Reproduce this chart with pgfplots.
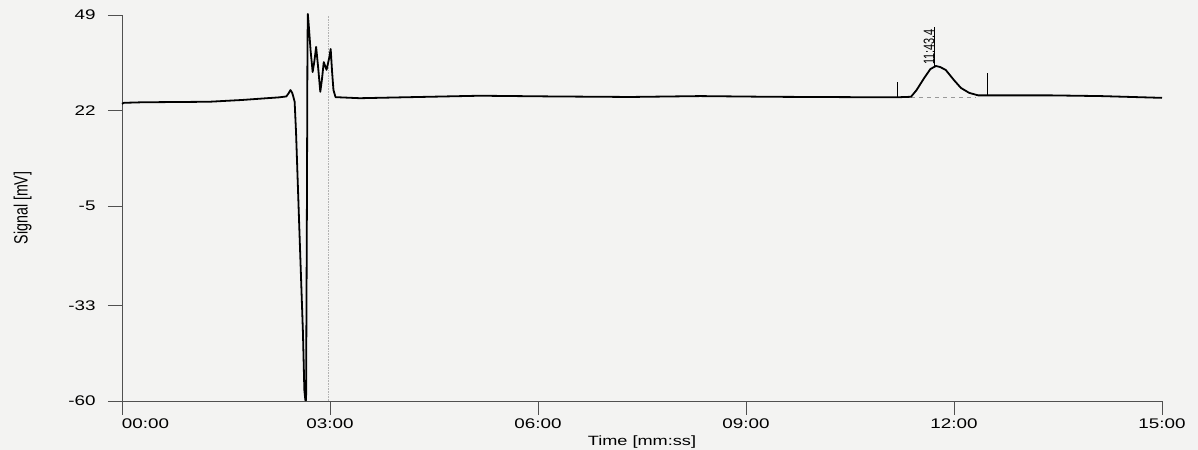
\documentclass[border=0pt]{standalone}
\usepackage{fontspec}
\setmainfont{Liberation Sans}[FakeStretch=1.35]
\newfontfamily\plainfont{Liberation Sans}
\usepackage{pgfplots}
\pgfplotsset{compat=1.18}
\definecolor{paper}{RGB}{243,243,242}
\definecolor{axisgray}{RGB}{80,80,80}
\pgfplotstableread{
t v
0 23.9
0.03 24.2
0.29 24.35
1.26 24.5
1.73 25.0
2.27 25.75
2.37 26.0
2.40 26.8
2.43 27.8
2.455 27.0
2.47 26.0
2.49 24.5
2.51 16
2.56 -12.6
2.61 -40.8
2.63 -56.9
2.645 -59.8
2.655 -59.8
2.667 -5
2.675 40
2.68 49.3
2.69 47
2.72 39
2.75 32.9
2.775 36
2.80 40.0
2.83 34
2.86 27.3
2.885 31
2.91 35.7
2.95 33.5
2.99 37
3.01 39.4
3.03 33
3.05 27.8
3.08 25.8
3.43 25.5
4.29 25.85
5.16 26.2
6.2 26.0
7.33 25.85
8.34 26.1
9.35 25.9
10.5 25.8
11.16 25.75
11.38 25.9
11.46 27.8
11.57 31.2
11.66 33.75
11.74 34.6
11.80 34.3
11.88 33.5
12.0 30.6
12.10 28.4
12.22 27.0
12.35 26.3
12.49 26.3
13.40 26.3
14.12 26.1
15.0 25.6
}\trace
\begin{document}
\begin{tikzpicture}[x=1bp,y=1bp]
\path[use as bounding box, fill=paper] (-122,-49) rectangle (1076,401);
\begin{axis}[
  at={(0,0)}, anchor=south west,
  scale only axis, width=1040bp, height=386bp,
  xmin=0, xmax=15, ymin=-60, ymax=49,
  axis x line*=bottom, axis y line*=left,
  axis line style={axisgray, line width=0.9bp},
  tick align=outside, major tick length=14bp,
  tick style={axisgray, line width=0.9bp},
  xtick={0,3,6,9,12,15},
  xticklabels={\makebox[0pt][l]{00:00},03:00,06:00,09:00,12:00,15:00},
  ytick={-60,-33,-5,22,49},
  yticklabels={-60,-33,-5,22,49},
  ticklabel style={font=\fontsize{14}{16}\selectfont, text=black},
  yticklabel style={xshift=-9bp},
  xlabel={Time [mm:ss]},
  ylabel={\plainfont\fontsize{14.3}{16}\selectfont\scalebox{1}[1.35]{Signal [mV]}},
  x label style={font=\fontsize{13.5}{16}\selectfont, text=black, at={(axis description cs:0.5,-0.105)}, anchor=center},
  y label style={text=black, at={(axis description cs:-0.0955,0.5)}, anchor=center},
  clip=false,
]
\addplot[gray!60, densely dotted, line width=0.6bp] coordinates {(2.98,-60) (2.98,49)};
\addplot[gray!80, dash pattern=on 4bp off 4bp, line width=1bp] coordinates {(11.38,25.75) (12.32,25.75)};
\addplot[black, line width=1.8bp, line join=round] table[x=t, y=v] {\trace};
\addplot[black, line width=1bp] coordinates {(11.19,25.75) (11.19,30.1)};
\addplot[black, line width=1bp] coordinates {(12.49,26.2) (12.49,32.6)};
\addplot[black, line width=1bp] coordinates {(11.723,34.6) (11.723,45.6)};
\node[rotate=90, anchor=south west, inner sep=0pt, xshift=-2bp, font=\plainfont\fontsize{11}{13}\selectfont] at (axis cs:11.723,35.4) {\scalebox{1}[1.4]{11:43.4}};
\end{axis}
\end{tikzpicture}
\end{document}
